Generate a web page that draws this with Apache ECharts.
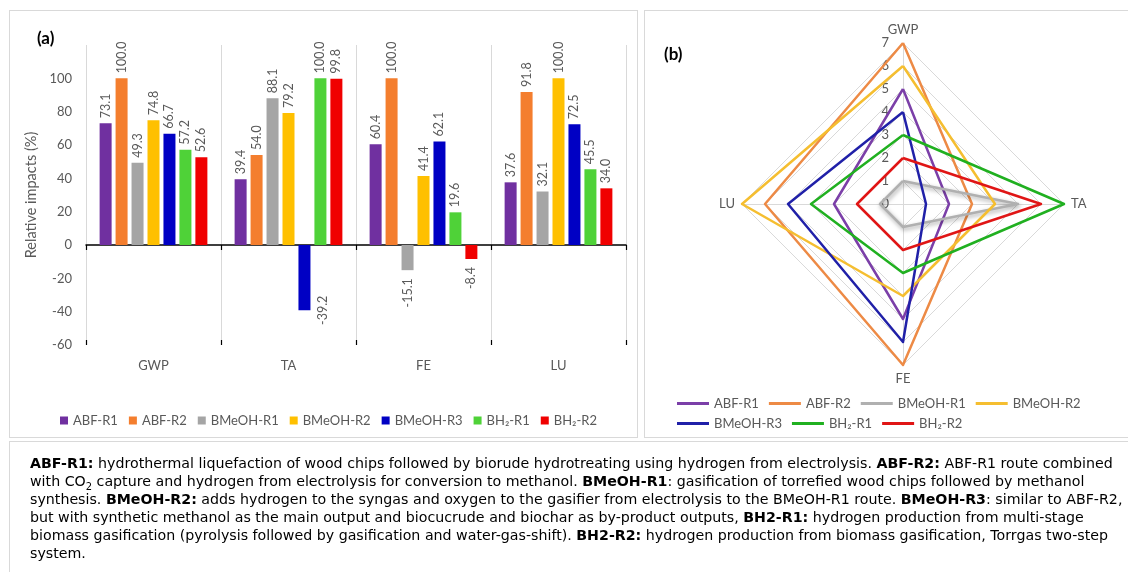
<!DOCTYPE html>
<html><head><meta charset="utf-8">
<script src="https://cdn.jsdelivr.net/npm/echarts/dist/echarts.min.js"></script>
<style>
html,body{margin:0;padding:0;background:#fff;width:1128px;height:572px;overflow:hidden;position:relative;}
.panel{position:absolute;border:1px solid #d9d9d9;box-sizing:border-box;}
#chartA,#chartB{position:absolute;left:0;top:0;width:1128px;height:440px;}
#caption{position:absolute;left:9px;top:441px;width:1140px;height:140px;border:1px solid #d9d9d9;box-sizing:border-box;}
#capText{position:absolute;left:20px;top:12px;font-family:'DejaVu Sans',sans-serif;font-size:13px;line-height:18px;white-space:nowrap;color:#000;}
#capText span{display:inline-block;}
</style>
</head><body>
<div class="panel" style="left:9px;top:10px;width:629px;height:428px;"></div>
<div class="panel" style="left:644px;top:10px;width:500px;height:428px;"></div>
<div id="chartA"></div>
<div id="chartB"></div>
<div id="caption"><div id="capText">
<span id="line1"><b>ABF-R1:</b> hydrothermal liquefaction of wood chips followed by biorude hydrotreating using hydrogen from electrolysis. <b>ABF-R2:</b> ABF-R1 route combined</span><br>
<span>with CO<sub style="font-size:70%;line-height:0">2</sub> capture and hydrogen from electrolysis for conversion to methanol. <b>BMeOH-R1</b>: gasification of torrefied wood chips followed by methanol</span><br>
<span>synthesis. <b>BMeOH-R2:</b> adds hydrogen to the syngas and oxygen to the gasifier from electrolysis to the BMeOH-R1 route. <b>BMeOH-R3</b>: similar to ABF-R2,</span><br>
<span>but with synthetic methanol as the main output and biocucrude and biochar as by-product outputs, <b>BH2-R1:</b> hydrogen production from multi-stage</span><br>
<span>biomass gasification (pyrolysis followed by gasification and water-gas-shift). <b>BH2-R2:</b> hydrogen production from biomass gasification, Torrgas two-step</span><br>
<span>system.</span>
</div></div>
<script>
// ---- data ----
const categories = ['GWP', 'TA', 'FE', 'LU'];
const seriesNames = ['ABF-R1', 'ABF-R2', 'BMeOH-R1', 'BMeOH-R2', 'BMeOH-R3', 'BH\u2082-R1', 'BH\u2082-R2'];
const abfR1   = [73.1, 39.4, 60.4, 37.6];
const abfR2   = [100.0, 54.0, 100.0, 91.8];
const bmeohR1 = [49.3, 88.1, -15.1, 32.1];
const bmeohR2 = [74.8, 79.2, 41.4, 100.0];
const bmeohR3 = [66.7, -39.2, 62.1, 72.5];
const bh2R1   = [57.2, 100.0, 19.6, 45.5];
const bh2R2   = [52.6, 99.8, -8.4, 34.0];
const yTicks = [-60, -40, -20, 0, 20, 40, 60, 80, 100];
// radar (b): ranks per impact category, order GWP, TA, FE, LU
const rankABFR1   = [5, 2, 5, 3];
const rankABFR2   = [7, 3, 7, 6];
const rankBMeOHR1 = [1, 5, 1, 1];
const rankBMeOHR2 = [6, 4, 4, 7];
const rankBMeOHR3 = [4, 1, 6, 5];
const rankBH2R1   = [3, 7, 3, 4];
const rankBH2R2   = [2, 6, 2, 2];
const radarTicks = [0, 1, 2, 3, 4, 5, 6, 7];

// ---- styles ----
const barValues = [abfR1, abfR2, bmeohR1, bmeohR2, bmeohR3, bh2R1, bh2R2];
const radarValues = [rankABFR1, rankABFR2, rankBMeOHR1, rankBMeOHR2, rankBMeOHR3, rankBH2R1, rankBH2R2];
const barColors = ['#7030A0', '#F47E2E', '#A5A5A5', '#FFC000', '#0000C4', '#4FD238', '#F00000'];
const radarColors = ['#7B3FA8', '#ED8A45', '#B0B0B0', '#F5BE30', '#2020A8', '#20B020', '#E01515'];
const txt = '#595959';
const FONT = 'Lato';

// ---- chart (a) ----
const chartA = echarts.init(document.getElementById('chartA'));
function barLabelFor(v) {
  if (v >= 0) return v;
  if (v < -30) return { value: v, label: { position: ['150%', '100%'], align: 'center', verticalAlign: 'top' } };
  return { value: v, label: { position: 'bottom', align: 'right', distance: 8 } };
}
const barSeries = seriesNames.map((n, i) => ({
  type: 'bar', name: n, xAxisIndex: 0, yAxisIndex: 0,
  barWidth: 12, barGap: '33%',
  itemStyle: { color: barColors[i] },
  label: { show: true, position: 'top', rotate: 90, align: 'left', verticalAlign: 'middle', distance: 5,
    fontFamily: FONT, fontSize: 12.5, color: txt, formatter: p => Number(p.value).toFixed(1) },
  data: barValues[i].map(barLabelFor)
}));
chartA.setOption({
  animation: false,
  textStyle: { fontFamily: FONT },
  grid: { left: 86, top: 45, width: 540, height: 300, outerBoundsMode: 'none', containLabel: false },
  xAxis: [
    { type: 'category', data: categories, position: 'bottom',
      axisLine: { onZero: true, lineStyle: { color: '#000', width: 1.5 } },
      axisTick: { show: true, length: 5, lineStyle: { color: '#000', width: 1.2 } },
      axisLabel: { show: false }, splitLine: { show: false } },
    { type: 'category', data: categories, position: 'bottom',
      axisLine: { show: false, onZero: false }, axisTick: { show: false },
      axisLabel: { show: true, color: txt, fontSize: 13, fontFamily: FONT, margin: 14 },
      splitLine: { show: true, lineStyle: { color: '#d9d9d9', width: 1 } } },
    { type: 'category', data: categories, position: 'bottom',
      axisLine: { show: false, onZero: true },
      axisTick: { show: true, inside: true, length: 5, lineStyle: { color: '#000', width: 1.2 } },
      axisLabel: { show: false }, splitLine: { show: false } }
  ],
  yAxis: { type: 'value', min: -60, max: 120, interval: 20,
    name: 'Relative impacts (%)', nameLocation: 'middle', nameGap: 47,
    nameTextStyle: { color: txt, fontSize: 14.5, fontFamily: FONT },
    axisLine: { show: false }, axisTick: { show: false }, splitLine: { show: false },
    axisLabel: { color: txt, fontSize: 13, fontFamily: FONT, margin: 14,
      formatter: v => yTicks.includes(v) ? String(v) : '' } },
  legend: { left: 55, top: 409, itemWidth: 8, itemHeight: 8, itemGap: 11, icon: 'rect',
    textStyle: { color: txt, fontSize: 13, fontFamily: FONT }, data: seriesNames },
  graphic: [{ type: 'text', left: 37, top: 30, style: { text: '(a)', font: 'bold 17px Lato', fill: '#000' } }],
  series: barSeries
});

// ---- chart (b) ----
const chartB = echarts.init(document.getElementById('chartB'));
const order = [0, 3, 2, 1]; // GWP, LU, FE, TA (counter-clockwise layout)
const indicators = order.map((k, j) => {
  const ind = { name: categories[k], min: 0, max: 7 };
  if (j === 0) ind.axisLabel = { show: true, color: txt, fontSize: 13, fontFamily: FONT, margin: 14 };
  return ind;
});
const radarSeries = seriesNames.map((n, i) => ({
  type: 'radar', name: n, symbol: 'none',
  lineStyle: Object.assign({ width: 2.5, color: radarColors[i] }, i === 2 ? { shadowBlur: 4, shadowColor: 'rgba(0,0,0,0.35)', shadowOffsetX: 1, shadowOffsetY: 2 } : {}),
  itemStyle: { color: radarColors[i] },
  data: [{ name: n, value: order.map(k => radarValues[i][k]) }]
}));
const legendCommon = { icon: 'rect', itemWidth: 32, itemHeight: 3, itemGap: 10,
  textStyle: { color: txt, fontSize: 13, fontFamily: FONT, width: 72, overflow: 'truncate' } };
chartB.setOption({
  animation: false,
  textStyle: { fontFamily: FONT },
  radar: {
    center: [903, 204], radius: 161, startAngle: 90, shape: 'polygon', splitNumber: 7,
    indicator: indicators,
    axisName: { color: txt, fontSize: 13, fontFamily: FONT },
    nameGap: 7,
    splitLine: { lineStyle: { color: '#d9d9d9', width: 1 } },
    splitArea: { show: false },
    axisLine: { lineStyle: { color: '#d9d9d9' } },
    axisTick: { show: false },
    axisLabel: { show: false }
  },
  legend: [
    Object.assign({ left: 672, top: 392, data: seriesNames.slice(0, 4) }, legendCommon),
    Object.assign({ left: 672, top: 412, data: seriesNames.slice(4) }, legendCommon)
  ],
  graphic: [{ type: 'text', left: 664, top: 46, style: { text: '(b)', font: 'bold 17px Lato', fill: '#000' } }],
  series: radarSeries
});

// fit caption line width to reference
const l1 = document.getElementById('line1');
const w = l1.getBoundingClientRect().width;
const cap = document.getElementById('capText');
cap.style.fontSize = (13 * 1083 / w).toFixed(2) + 'px';
</script>
</body></html>
